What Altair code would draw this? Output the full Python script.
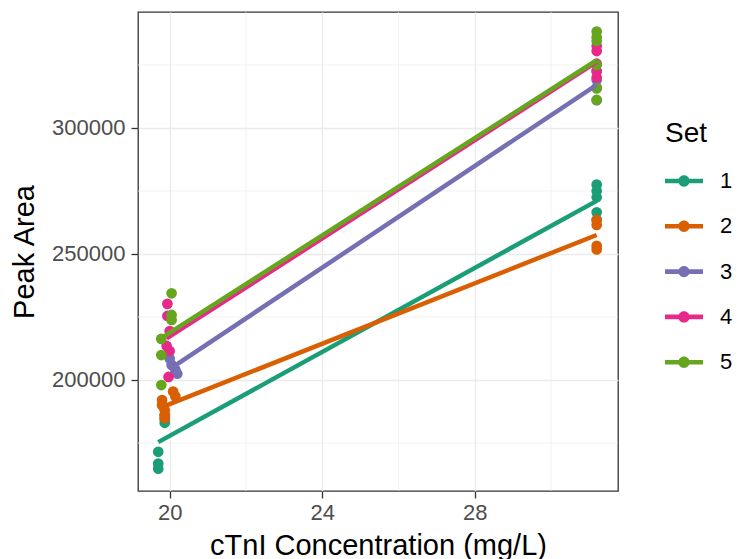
import altair as alt
import pandas as pd

# ---- data ----
set_names = ["1", "2", "3", "4", "5"]
set_colors = ["#1B9E77", "#D95F02", "#7570B3", "#E7298A", "#66A61E"]

set1_conc = [19.7, 19.7, 19.7, 19.87, 19.87, 19.87, 31.2, 31.2, 31.2, 31.2, 31.2]
set1_area = [171500, 166800, 164800, 183000, 184500, 186000, 277500, 275000, 272500, 266500, 263500]

set2_conc = [19.8, 19.8, 19.87, 19.87, 19.87, 20.09, 20.15, 31.2, 31.2, 31.2, 31.2]
set2_area = [192000, 190000, 188000, 186100, 184800, 195400, 193500, 263500, 261500, 253200, 251800]

set3_conc = [20.0, 20.05, 20.15, 20.2, 31.2, 31.2, 31.2, 31.2]
set3_area = [208500, 206000, 204000, 202500, 322500, 319000, 316000, 311000]

set4_conc = [19.94, 19.94, 20.0, 19.92, 20.0, 19.97, 31.2, 31.2, 31.2, 31.2, 31.2]
set4_area = [230200, 225400, 219400, 213500, 211500, 201200, 332500, 330500, 325500, 322500, 320000]

set5_conc = [20.05, 20.05, 20.05, 19.78, 19.78, 19.78, 31.2, 31.2, 31.2, 31.2, 31.2, 31.2]
set5_area = [234400, 225800, 223800, 216300, 209900, 198000, 338200, 336000, 334500, 325000, 315700, 311100]

x_ticks = [20, 24, 28]
y_ticks = [200000, 250000, 300000]
x_minor = [22, 26, 30]
y_minor = [175000, 225000, 275000, 325000]

# ---- table ----
frames = []
for name, cx, ay in zip(set_names,
                        [set1_conc, set2_conc, set3_conc, set4_conc, set5_conc],
                        [set1_area, set2_area, set3_area, set4_area, set5_area]):
    frames.append(pd.DataFrame({"conc": cx, "area": ay, "Set": name}))
df = pd.concat(frames, ignore_index=True)

FONT = "Liberation Sans"
x_scale = alt.Scale(domain=[19.169, 31.759], nice=False, zero=False)
y_scale = alt.Scale(domain=[155950, 346000], nice=False, zero=False)

x_axis = alt.Axis(values=x_ticks, title="cTnI Concentration (mg/L)", grid=True,
                  gridColor="#EBEBEB", gridWidth=1.4, domain=False,
                  tickColor="#333333", tickWidth=1.3, tickSize=7,
                  labelColor="#4D4D4D", labelFontSize=22, labelFont=FONT, labelPadding=4,
                  titleColor="#000000", titleFontSize=29, titleFont=FONT,
                  titleFontWeight="normal", titlePadding=8)
y_axis = alt.Axis(values=y_ticks, title="Peak Area", grid=True, format="d",
                  gridColor="#EBEBEB", gridWidth=1.4, domain=False,
                  tickColor="#333333", tickWidth=1.3, tickSize=7,
                  labelColor="#4D4D4D", labelFontSize=22, labelFont=FONT, labelPadding=6,
                  titleColor="#000000", titleFontSize=29, titleFont=FONT,
                  titleFontWeight="normal", titlePadding=12)

X = alt.X("conc:Q", scale=x_scale, axis=x_axis)
Y = alt.Y("area:Q", scale=y_scale, axis=y_axis)

legend_path = ("M-1,-0.12H1V0.12H-1Z "
               "M-0.3,0A0.3,0.3 0 1 1 0.3,0A0.3,0.3 0 1 1 -0.3,0Z")

color_points = alt.Color("Set:N", scale=alt.Scale(domain=set_names, range=set_colors),
                         legend=alt.Legend(title="Set", orient="none", legendX=527, legendY=108,
                                           padding=0, symbolType=legend_path, symbolSize=1444,
                                           symbolStrokeWidth=0, symbolOpacity=1,
                                           labelFontSize=22, labelFont=FONT, labelColor="#000000",
                                           labelOffset=17, rowPadding=15.3,
                                           titleFontSize=28, titleFont=FONT, titleColor="#000000",
                                           titleFontWeight="normal", titlePadding=14))
color_lines = alt.Color("Set:N", scale=alt.Scale(domain=set_names, range=set_colors), legend=None)

minor_x_layer = alt.Chart(pd.DataFrame({"conc": x_minor})).mark_rule(
    color="#EBEBEB", strokeWidth=0.7).encode(x=X)
minor_y_layer = alt.Chart(pd.DataFrame({"area": y_minor})).mark_rule(
    color="#EBEBEB", strokeWidth=0.7).encode(y=Y)

points = alt.Chart(df).mark_point(filled=True, size=115, opacity=1).encode(
    x=X, y=Y, color=color_points)

lines = alt.Chart(df).transform_regression(
    "conc", "area", groupby=["Set"], method="linear"
).mark_line(strokeWidth=4.5).encode(x=X, y=Y, color=color_lines)

chart = alt.layer(minor_x_layer, minor_y_layer, points, lines).properties(
    width=480, height=479,
    autosize=alt.AutoSizeParams(type="none"),
    padding={"left": 138, "top": 12, "right": 121, "bottom": 68},
    background="white",
).configure(font=FONT).configure_view(stroke="#333333", strokeWidth=1.3)

chart.save("out.html", embed_options={"renderer": "svg", "actions": False})
